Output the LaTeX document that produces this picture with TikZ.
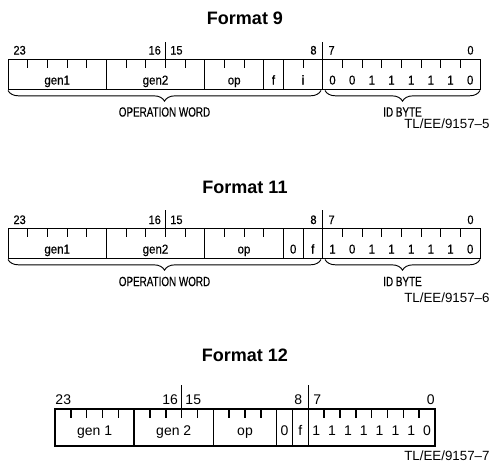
\documentclass[tikz,border=0pt]{standalone}
\usepackage{fontspec}
\setmainfont{Liberation Sans}
\newfontfamily\narrowsf[FakeStretch=0.74,FakeBold=0.4]{Liberation Sans}
\newfontfamily\condsf[FakeStretch=0.9,FakeBold=0.4]{Liberation Sans}
\usetikzlibrary{decorations.pathreplacing}

\begin{document}
\begin{tikzpicture}[x=0.75pt,y=-0.75pt,line width=0.7pt,
    title/.style={font=\fontsize{13.5}{16}\selectfont\bfseries},
    bitno/.style={font=\condsf\fontsize{9.2}{10}\selectfont,inner sep=0pt,anchor=base},
    fld/.style={font=\condsf\fontsize{9.6}{11}\selectfont,inner sep=0pt,anchor=base},
    bigno/.style={font=\fontsize{10.5}{12}\selectfont,inner sep=0pt,anchor=base},
    under/.style={font=\narrowsf\fontsize{10}{12}\selectfont,inner sep=0pt},
    figno/.style={font=\fontsize{10}{12}\selectfont,inner sep=0pt,anchor=east},
    brace/.style={decorate,decoration={brace,mirror,amplitude=8pt}},
    heavy/.style={line width=1.1pt}]
  \useasboundingbox (0,0) rectangle (492,471);

  % Format 9
  \node[title] (title9) at (245,18) {Format 9};
  \draw (8,59) rectangle (480,89);
  \foreach \b in {1,...,23} {
    \draw (8+\b*19.667,59) -- ++(0,9);
  }
  \foreach \b in {5,10,13,14} {
    \draw (8+\b*19.667,59) -- ++(0,30);
  }
  \draw (165.33,42) -- (165.33,68);
  \draw (322.67,42) -- (322.67,89);
  \node[bitno,anchor=base west] (n23a) at (13,54.5) {23};
  \node[bitno,anchor=base east] (n16a) at (161.3,54.5) {16};
  \node[bitno,anchor=base west] (n15a) at (169.8,54.5) {15};
  \node[bitno,anchor=base east] (n8a) at (317,54.5) {8};
  \node[bitno,anchor=base west] (n7a) at (328,54.5) {7};
  \node[bitno,anchor=base east] (n0a) at (474,54.5) {0};
  \node[fld] (gen1a) at (57.2,84.5) {gen1};
  \node[fld] (gen2a) at (155.5,84.5) {gen2};
  \node[fld] (opa) at (234.2,84.5) {op};
  \node[fld] (fa) at (273.5,84.5) {f};
  \node[fld] (ia) at (303,84.5) {i};
  \foreach \d [count=\i] in {0,0,1,1,1,1,1,0} {
    \node[fld] (id9-\i) at (8+15.5*19.667+\i*19.667,84.5) {\d};
  }
  \coordinate (ow9l) at (8,90.5);
  \coordinate (ow9r) at (321,90.5);
  \coordinate (id9l) at (325,90.5);
  \coordinate (id9r) at (480,90.5);
  \draw[brace] (ow9l) -- (ow9r);
  \draw[brace] (id9l) -- (id9r);
  \node[under] (ow9) at (164.5,112) {OPERATION WORD};
  \node[under] (idb9) at (402.5,112) {ID BYTE};
  \node[figno] (tl9) at (490,124) {TL/EE/9157--5};

  % Format 11
  \node[title] (title11) at (245,187) {Format 11};
  \draw (8,228) rectangle (480,258);
  \foreach \b in {1,...,23} {
    \draw (8+\b*19.667,228) -- ++(0,9);
  }
  \foreach \b in {5,10,14,15} {
    \draw (8+\b*19.667,228) -- ++(0,30);
  }
  \draw (165.33,210) -- (165.33,237);
  \draw (322.67,210) -- (322.67,258);
  \node[bitno,anchor=base west] (n23b) at (13,224) {23};
  \node[bitno,anchor=base east] (n16b) at (161.3,224) {16};
  \node[bitno,anchor=base west] (n15b) at (169.8,224) {15};
  \node[bitno,anchor=base east] (n8b) at (317,224) {8};
  \node[bitno,anchor=base west] (n7b) at (328,224) {7};
  \node[bitno,anchor=base east] (n0b) at (474,224) {0};
  \node[fld] (gen1b) at (57.2,253.5) {gen1};
  \node[fld] (gen2b) at (155.5,253.5) {gen2};
  \node[fld] (opb) at (244,253.5) {op};
  \node[fld] (zb) at (293.2,253.5) {0};
  \node[fld] (fb) at (312.8,253.5) {f};
  \foreach \d [count=\i] in {1,0,1,1,1,1,1,0} {
    \node[fld] (id11-\i) at (8+15.5*19.667+\i*19.667,253.5) {\d};
  }
  \coordinate (ow11l) at (8,259.5);
  \coordinate (ow11r) at (321,259.5);
  \coordinate (id11l) at (325,259.5);
  \coordinate (id11r) at (480,259.5);
  \draw[brace] (ow11l) -- (ow11r);
  \draw[brace] (id11l) -- (id11r);
  \node[under] (ow11) at (164.5,281.5) {OPERATION WORD};
  \node[under] (idb11) at (402.5,281.5) {ID BYTE};
  \node[figno] (tl11) at (490,298) {TL/EE/9157--6};

  % Format 12
  \node[title] (title12) at (245,355) {Format 12};
  \draw[heavy] (55,409) rectangle (435,446);
  \foreach \b in {1,...,23} {
    \draw[heavy] (55+\b*15.833,409) -- ++(0,9);
  }
  \foreach \b in {5,10,14,15} {
    \draw[heavy] (55+\b*15.833,409) -- ++(0,37);
  }
  \draw[heavy] (181.67,385) -- (181.67,418);
  \draw[heavy] (308.33,385) -- (308.33,446);
  \node[bigno,anchor=base west] (n23c) at (55,404) {23};
  \node[bigno,anchor=base east] (n16c) at (178.3,404) {16};
  \node[bigno,anchor=base west] (n15c) at (185,404) {15};
  \node[bigno,anchor=base east] (n8c) at (302.5,404) {8};
  \node[bigno,anchor=base west] (n7c) at (313,404) {7};
  \node[bigno,anchor=base east] (n0c) at (435,404) {0};
  \node[bigno] (gen1c) at (94.6,435) {gen 1};
  \node[bigno] (gen2c) at (173.75,435) {gen 2};
  \node[bigno] (opc) at (245,435) {op};
  \node[bigno] (zc) at (284.6,435) {0};
  \node[bigno] (fc) at (300.4,435) {f};
  \foreach \d [count=\i] in {1,1,1,1,1,1,1,0} {
    \node[bigno] (id12-\i) at (55+15.5*15.833+\i*15.833,435) {\d};
  }
  \node[figno] (tl12) at (490,456) {TL/EE/9157--7};
\end{tikzpicture}
\end{document}
